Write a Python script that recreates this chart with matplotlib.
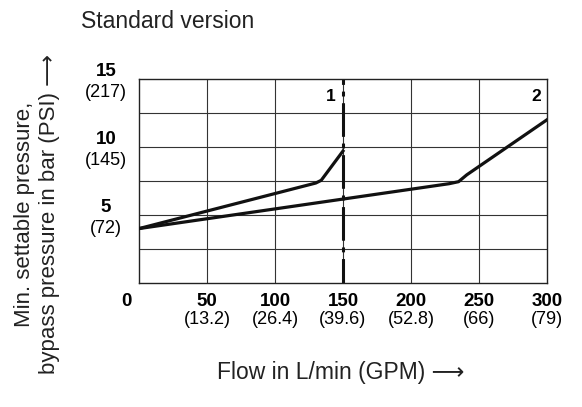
import matplotlib
matplotlib.use("Agg")
import matplotlib.pyplot as plt
import matplotlib.transforms as mtransforms

plt.rcParams['font.family'] = ['Liberation Sans', 'DejaVu Sans']

# flow in L/min, pressure in bar
flow_1 = [0, 130, 134, 150]
press_1 = [4.0, 7.35, 7.55, 9.7]
flow_2 = [0, 228, 235, 241, 300]
press_2 = [4.0, 7.3, 7.45, 7.95, 12.0]
limit_flow = 150

x_ticks = [0, 50, 100, 150, 200, 250, 300]
x_gpm = ["", "(13.2)", "(26.4)", "(39.6)", "(52.8)", "(66)", "(79)"]
y_ticks = [5, 10, 15]
y_psi = ["(72)", "(145)", "(217)"]
curve_names = ["1", "2"]
name_pos = [(141, 13.7), (292, 13.7)]

ARROW = "\u27f6"  # not in Liberation, falls back to DejaVu


def main():
    fig = plt.figure(figsize=(5.82, 4.07), dpi=100)
    ax = fig.add_axes([0.2388, 0.3047, 0.701, 0.5012])
    ax.set_xlim(0, 300)
    ax.set_ylim(0, 15)

    # grid
    for gx in range(50, 300, 50):
        ax.axvline(gx, color="#333333", lw=0.8, zorder=1)
    for k in range(1, 6):
        ax.axhline(k * 2.5, color="#333333", lw=0.8, zorder=1)
    for s in ax.spines.values():
        s.set_linewidth(1.0)
        s.set_color("#222222")

    ax.plot(flow_1, press_1, color="#111111", lw=2.3, zorder=3,
            solid_joinstyle="round")
    ax.plot(flow_2, press_2, color="#111111", lw=2.3, zorder=3,
            solid_joinstyle="round")
    ax.plot([limit_flow, limit_flow], [0, 15], color="#111111", lw=2.2,
            linestyle=(3, (11, 2.2, 1.6, 2.2)), zorder=2)

    for name, (fx, fy) in zip(curve_names, name_pos):
        ax.text(fx, fy, name, fontsize=12.5, fontweight="bold",
                ha="center", va="center")

    ax.set_xticks([])
    ax.set_yticks([])

    # tick labels, bold number with value in brackets below
    tx = mtransforms.blended_transform_factory(ax.transData, ax.transAxes)
    for v, g in zip(x_ticks, x_gpm):
        off = mtransforms.ScaledTranslation(0, -10 / 100, fig.dpi_scale_trans)
        xpos = v
        if v == 0:
            xpos = -9
        ax.text(xpos, 0, str(v), transform=tx + off, fontsize=13.5,
                fontweight="bold", ha="center", va="top")
        off2 = mtransforms.ScaledTranslation(0, -28 / 100, fig.dpi_scale_trans)
        ax.text(v, 0, g, transform=tx + off2, fontsize=13,
                ha="center", va="top")

    ty = mtransforms.blended_transform_factory(ax.transAxes, ax.transData)
    for v, p in zip(y_ticks, y_psi):
        off = mtransforms.ScaledTranslation(-33 / 100, -1 / 100,
                                            fig.dpi_scale_trans)
        ax.text(0, v, str(v), transform=ty + off, fontsize=13.5,
                fontweight="bold", ha="center", va="bottom")
        off2 = mtransforms.ScaledTranslation(-33 / 100, -5 / 100,
                                             fig.dpi_scale_trans)
        ax.text(0, v, p, transform=ty + off2, fontsize=13,
                ha="center", va="top")

    fig.text(81 / 582, 1 - 10 / 407, "Standard version", fontsize=16.5,
             ha="left", va="top", color="#222222")
    fig.text(37 / 582, 1 - 214 / 407,
             "Min. settable pressure,\nbypass pressure in bar (PSI) " + ARROW,
             fontsize=16, rotation=90, ha="center", va="center",
             multialignment="center", linespacing=1.2, color="#222222")
    fig.text(341 / 582, 1 - 372 / 407, "Flow in L/min (GPM) " + ARROW,
             fontsize=16.5, ha="center", va="center", color="#222222")

    fig.savefig("out.png", dpi=100)


if __name__ == "__main__":
    main()
